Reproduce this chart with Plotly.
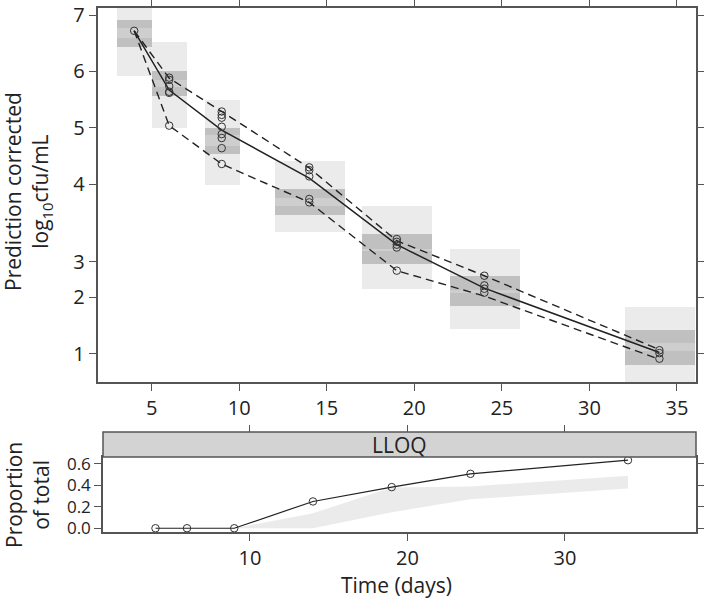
import plotly.graph_objects as go

# ---------------- data ----------------
bin_centers = [4, 6, 9, 14, 19, 24, 34]
bin_width = [2, 2, 2, 4, 4, 4, 4]

obs_4 = [6.72]
obs_6 = [5.89, 5.85, 5.74, 5.64, 5.62, 5.04]
obs_9 = [5.29, 5.23, 5.18, 5.02, 4.89, 4.82, 4.64, 4.36]
obs_14 = [4.30, 4.25, 4.14, 3.74, 3.68]
obs_19 = [3.03, 2.98, 2.93, 2.88, 2.47]
obs_24 = [2.38, 2.21, 2.15, 2.08]
obs_34 = [1.06, 1.01, 0.91]

obs_median = [6.72, 5.67, 4.96, 4.11, 2.93, 2.16, 1.02]
obs_upper = [6.72, 5.88, 5.29, 4.29, 3.00, 2.38, 1.07]
obs_lower = [6.72, 5.04, 4.36, 3.68, 2.47, 2.02, 0.90]

ci_outer_lo = [5.92, 5.00, 3.99, 3.15, 2.15, 1.44, 0.40]
ci_outer_hi = [7.20, 6.53, 5.50, 4.42, 3.62, 2.85, 1.83]
ci_dark_lo = [6.43, 5.57, 4.53, 3.46, 2.59, 1.84, 0.80]
ci_dark_hi = [6.91, 6.00, 5.00, 3.91, 3.12, 2.38, 1.41]
ci_mid_lo = [6.59, 5.72, 4.67, 3.61, 2.83, 2.09, 1.04]
ci_mid_hi = [6.77, 5.85, 4.88, 3.76, 2.86, 2.12, 1.18]

y_tickvals = [1, 2, 2.63, 4, 5, 6, 7]
y_ticktext = ["1", "2", "3", "4", "5", "6", "7"]
x_tickvals = [5, 10, 15, 20, 25, 30, 35]

lloq_time = [4, 6, 9, 14, 19, 24, 34]
lloq_obs = [0.0, 0.0, 0.0, 0.25, 0.384, 0.508, 0.635]
lloq_band_time = [9, 14, 19, 24, 34]
lloq_band_lo = [0.0, 0.0, 0.15, 0.27, 0.37]
lloq_band_hi = [0.0, 0.14, 0.38, 0.39, 0.49]
lloq_yticks = [0.0, 0.2, 0.4, 0.6]
lloq_xticks = [10, 20, 30]

# ---------------- style ----------------
FONT = "Open Sans"
FS = 20
FT = 21
TXT = "#222222"
AX = "#555555"
LIGHT = "#ebebeb"
DARK = "#c0c0c0"
MID = "#cecece"

fig = go.Figure()

def bars(lo, hi, color):
    fig.add_trace(go.Bar(
        x=bin_centers, base=lo, y=[h - l for l, h in zip(lo, hi)],
        width=bin_width, marker=dict(color=color, line=dict(width=0)),
        xaxis="x", yaxis="y", showlegend=False, hoverinfo="skip"))

bars(ci_outer_lo, ci_outer_hi, LIGHT)
bars(ci_dark_lo, ci_dark_hi, DARK)
bars(ci_mid_lo, ci_mid_hi, MID)

# percentile lines
fig.add_trace(go.Scatter(x=bin_centers, y=obs_upper, mode="lines",
                         line=dict(color="#222", width=1.4, dash="8px,5px"), showlegend=False))
fig.add_trace(go.Scatter(x=bin_centers, y=obs_lower, mode="lines",
                         line=dict(color="#222", width=1.4, dash="8px,5px"), showlegend=False))
fig.add_trace(go.Scatter(x=bin_centers, y=obs_median, mode="lines",
                         line=dict(color="#222", width=1.5), showlegend=False))

# observations
obs_groups = [obs_4, obs_6, obs_9, obs_14, obs_19, obs_24, obs_34]
ox, oy = [], []
for t, g in zip(bin_centers, obs_groups):
    ox += [t] * len(g)
    oy += g
fig.add_trace(go.Scatter(x=ox, y=oy, mode="markers",
                         marker=dict(symbol="circle-open", size=7.5, color="#333", line=dict(width=1)),
                         showlegend=False))

# ---------------- bottom panel ----------------
fig.add_trace(go.Scatter(x=lloq_band_time, y=lloq_band_lo, mode="lines", line=dict(width=0),
                         xaxis="x2", yaxis="y2", showlegend=False, hoverinfo="skip"))
fig.add_trace(go.Scatter(x=lloq_band_time, y=lloq_band_hi, mode="lines", line=dict(width=0),
                         fill="tonexty", fillcolor=LIGHT,
                         xaxis="x2", yaxis="y2", showlegend=False, hoverinfo="skip"))
fig.add_trace(go.Scatter(x=lloq_time, y=lloq_obs, mode="lines+markers",
                         line=dict(color="#222", width=1.2),
                         marker=dict(symbol="circle-open", size=7.5, color="#333", line=dict(width=1)),
                         xaxis="x2", yaxis="y2", showlegend=False))
# invisible trace to carry the strip-top tick axis
fig.add_trace(go.Scatter(x=[lloq_xticks[0]], y=[0], mode="markers", marker=dict(opacity=0),
                         xaxis="x3", yaxis="y2", showlegend=False, hoverinfo="skip"))

W, H = 704, 600
top_dom_x = [97.5 / W, 696 / W]
top_dom_y = [1 - 382 / H, 1 - 8 / H]
bot_dom_x = [103 / W, 696 / W]
bot_dom_y = [1 - 532 / H, 1 - 457 / H]
strip_top = 1 - 432 / H

axcommon = dict(showgrid=False, zeroline=False, showline=True, linecolor=AX, linewidth=1.5,
                ticks="outside", ticklen=7, tickwidth=1.3, tickcolor=AX, automargin=False,
                tickfont=dict(family=FONT, size=FS, color=TXT))

fig.update_layout(
    width=W, height=H, margin=dict(l=0, r=0, t=0, b=0),
    paper_bgcolor="white", plot_bgcolor="white", barmode="overlay", bargap=0,
    font=dict(family=FONT, size=FS, color=TXT),
    xaxis=dict(domain=top_dom_x, anchor="y", range=[1.905, 36.09], tickvals=x_tickvals,
               mirror="allticks", **axcommon),
    yaxis=dict(domain=top_dom_y, anchor="x", range=[0.497, 7.124], tickvals=y_tickvals,
               ticktext=y_ticktext, mirror="allticks", **axcommon),
    xaxis2=dict(domain=bot_dom_x, anchor="y2", range=[0.667, 38.32], tickvals=lloq_xticks,
                mirror=True, **axcommon),
    yaxis2=dict(domain=bot_dom_y, anchor="x2", range=[-0.035, 0.665], tickvals=lloq_yticks,
                tickformat=".1f", mirror="allticks",
                **{**axcommon, "tickfont": dict(family=FONT, size=17, color=TXT)}),
    xaxis3=dict(overlaying="x2", anchor="free", position=strip_top, side="top",
                range=[0.667, 38.32], tickvals=lloq_xticks, showticklabels=False,
                showline=False, showgrid=False, zeroline=False, ticks="outside",
                ticklen=7, tickwidth=1.3, tickcolor=AX, automargin=False),
    shapes=[dict(type="rect", xref="paper", yref="paper",
                 x0=bot_dom_x[0], x1=bot_dom_x[1], y0=bot_dom_y[1], y1=strip_top,
                 fillcolor="#d3d3d3", line=dict(color=AX, width=1.5), layer="above")],
    annotations=[
        dict(text="LLOQ", xref="paper", yref="paper", x=(bot_dom_x[0] + bot_dom_x[1]) / 2,
             y=(bot_dom_y[1] + strip_top) / 2, showarrow=False, xanchor="center", yanchor="middle",
             font=dict(family=FONT, size=FT, color=TXT)),
        dict(text="Prediction corrected<br>log<sub>10</sub>cfu/mL", xref="paper", yref="paper",
             x=28 / W, y=1 - 192 / H, showarrow=False, textangle=-90, xanchor="center",
             yanchor="middle", font=dict(family=FONT, size=FT, color=TXT)),
        dict(text="Proportion<br>of total", xref="paper", yref="paper",
             x=27 / W, y=1 - 495 / H, showarrow=False, textangle=-90, xanchor="center",
             yanchor="middle", font=dict(family=FONT, size=FT, color=TXT)),
        dict(text="Time (days)", xref="paper", yref="paper",
             x=396 / W, y=1 - 585 / H, showarrow=False, xanchor="center", yanchor="middle",
             font=dict(family=FONT, size=FT, color=TXT)),
    ],
)

fig.write_html("out.html", config={"displayModeBar": False},
               post_script="document.body.style.margin='0';")
